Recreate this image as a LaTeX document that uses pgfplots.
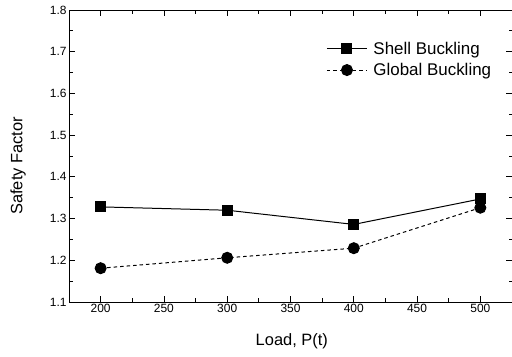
\documentclass[border=0pt]{standalone}
\usepackage{fontspec}
\setmainfont{Liberation Sans}
\usepackage{pgfplots}
\pgfplotsset{compat=1.18}
\begin{document}
\begin{tikzpicture}
\path[use as bounding box] (0,0) rectangle (512bp,357bp);
\begin{axis}[
  at={(69bp,55bp)}, anchor=south west,
  scale only axis, width=443bp, height=292bp,
  xmin=175, xmax=525, ymin=1.1, ymax=1.8,
  xtick={200,250,...,500},
  ytick={1.1,1.2,...,1.8},
  minor x tick num=1, minor y tick num=1,
  tick align=inside,
  major tick length=6bp, minor tick length=3.5bp,
  axis line style={line width=1pt},
  every tick/.style={black, line width=0.8pt},
  /pgf/number format/assume math mode=true,
  /pgf/number format/fixed,
  /pgf/number format/precision=1,
  yticklabel style={/pgf/number format/fixed zerofill, font=\fontsize{12}{14}\selectfont, xshift=1bp},
  xticklabel style={font=\fontsize{12}{14}\selectfont, yshift=1bp},
  xlabel={Load, P(t)},
  ylabel={Safety Factor},
  label style={font=\fontsize{16.5}{19}\selectfont},
  xlabel style={at={(axis description cs:0.503,-0.134)}, anchor=center},
  ylabel style={at={(axis description cs:-0.115,0.466)}, anchor=center},
  legend style={draw=none, fill=none, at={(axis description cs:0.574,0.905)}, anchor=north west,
    font=\fontsize{17}{19}\selectfont, row sep=3.5bp,
    /tikz/every odd column/.append style={column sep=4bp}},
  legend cell align=left,
  legend image code/.code={\draw[mark repeat=2,mark phase=2] plot coordinates {(0bp,0bp) (20bp,0bp) (40bp,0bp)};},
]
\addplot[black, line width=1pt, mark=square*, mark size=5bp, mark options={solid}] coordinates {
  (200,1.328) (300,1.320) (400,1.286) (500,1.347)
};
\addlegendentry{Shell Buckling}
\addplot[black, line width=1pt, dash pattern=on 3.5bp off 3bp, mark=*, mark size=5.5bp, mark options={solid}] coordinates {
  (200,1.181) (300,1.206) (400,1.229) (500,1.326)
};
\addlegendentry{Global Buckling}
\end{axis}
\end{tikzpicture}
\end{document}
